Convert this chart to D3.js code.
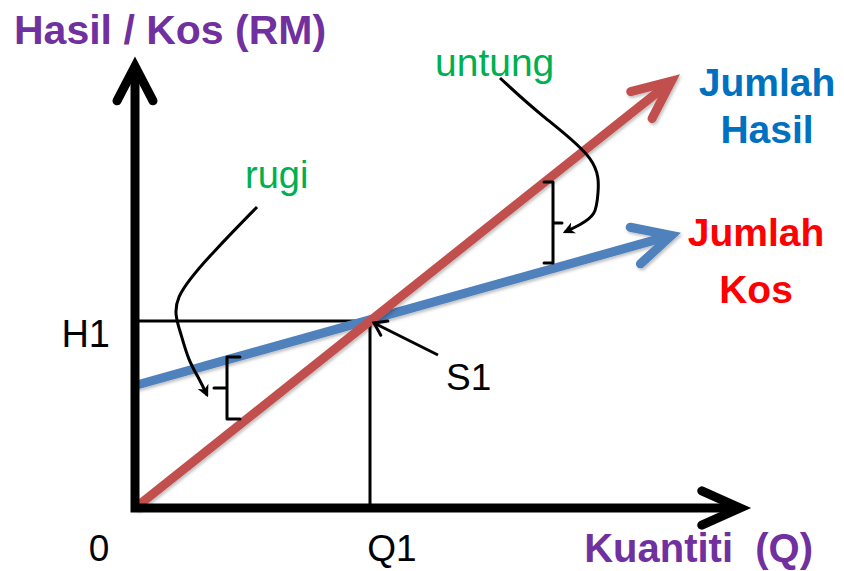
<!DOCTYPE html>
<html>
<head>
<meta charset="utf-8">
<script src="https://cdn.jsdelivr.net/npm/d3@7"></script>
<style>
  html, body { margin: 0; padding: 0; background: #ffffff; }
  svg { display: block; font-family: "Liberation Sans", Arial, sans-serif; }
</style>
</head>
<body>
<svg id="chart" width="844" height="571"></svg>
<script>
// ---- data (quantity units / RM units) ----
const quantity      = [0, 9.13];
const totalRevenue  = [0, 9.13];    // Jumlah Hasil (red line)
const totalCost     = [2.62, 5.83]; // Jumlah Kos (blue line)
const xTickValues   = [0, 4];
const xTickLabels   = ["0", "Q1"];
const yTickValues   = [4];
const yTickLabels   = ["H1"];
const breakEvenQ    = 4;
const breakEvenH    = 4;

// annotation geometry in data units
const rugiCurve   = [[2.077,6.439],[1.362,5.519],[0.596,4.449],[0.766,3.807],[0.902,3.166],[1.106,2.738],[1.226,2.417]];
const untungCurve = [[6.213,9.198],[6.894,8.406],[7.915,7.444],[7.881,6.695],[7.847,6.267],[7.574,6.053],[7.319,5.904]];
const rugiBracket   = {q:1.566, serif:1.787, tick:1.345, top:3.230, bottom:1.904, mid:2.567};
const untungBracket = {q:7.115, serif:6.962, tick:7.268, top:6.973, bottom:5.241, mid:6.096};
const s1Arrow = [[5.157,3.273],[4.068,3.957]];

const svg = d3.select("#chart");
const x = d3.scaleLinear().domain([0, 10]).range([135, 722.5]);
const y = d3.scaleLinear().domain([0, 10]).range([508, 40.5]);

const RED = "#C0504D", BLUE = "#4F81BD";

// shadow filter
const defs = svg.append("defs");
const f = defs.append("filter").attr("id","shadow").attr("x","-10%").attr("y","-10%").attr("width","130%").attr("height","130%");
f.append("feDropShadow").attr("dx",1.5).attr("dy",2).attr("stdDeviation",1.5).attr("flood-color","#000").attr("flood-opacity",0.25);

// small filled arrow marker
defs.append("marker").attr("id","tri").attr("viewBox","0 0 10 10").attr("refX",8).attr("refY",5)
  .attr("markerWidth",4).attr("markerHeight",4).attr("orient","auto").attr("markerUnits","strokeWidth")
  .append("path").attr("d","M0,0 L10,5 L0,10 L3,5 Z").attr("fill","#000");

function chevron(tip, angle, len, spread) {
  const a1 = angle + Math.PI - spread, a2 = angle + Math.PI + spread;
  return `M${tip[0]+len*Math.cos(a1)},${tip[1]+len*Math.sin(a1)} L${tip[0]},${tip[1]} L${tip[0]+len*Math.cos(a2)},${tip[1]+len*Math.sin(a2)}`;
}

// break-even guide lines
const gx = x(breakEvenQ), gy = y(breakEvenH);
svg.append("path")
  .attr("d", `M${x(0)},${gy} L${gx},${gy} L${gx},${y(0)}`)
  .attr("fill","none").attr("stroke","#000").attr("stroke-width",3);

// series lines with open arrowheads
function seriesLine(vals, color, spread, len) {
  const pts = quantity.map((q,i)=>[x(q), y(vals[i])]);
  const g = svg.append("g").attr("filter","url(#shadow)");
  g.append("path").attr("d", d3.line()(pts))
    .attr("stroke", color).attr("stroke-width", 9).attr("fill","none");
  const ang = Math.atan2(pts[1][1]-pts[0][1], pts[1][0]-pts[0][0]);
  g.append("path").attr("d", chevron(pts[1], ang, len, spread))
    .attr("stroke", color).attr("stroke-width", 9).attr("fill","none")
    .attr("stroke-linecap","round").attr("stroke-linejoin","miter");
}
seriesLine(totalCost, BLUE, 0.47, 42);
seriesLine(totalRevenue, RED, 0.42, 42);

// axes
const ax = svg.append("g");
ax.append("path").attr("d", `M${x(0)},${y(9.45)} L${x(0)},${y(0)} L${x(10.3)},${y(0)}`)
  .attr("fill","none").attr("stroke","#000").attr("stroke-width",9).attr("stroke-linejoin","miter");
ax.append("path").attr("d", chevron([x(0), y(9.45)], -Math.PI/2, 39, 0.48))
  .attr("fill","none").attr("stroke","#000").attr("stroke-width",9).attr("stroke-linecap","round");
ax.append("path").attr("d", chevron([x(10.3), y(0)], 0, 42, 0.42))
  .attr("fill","none").attr("stroke","#000").attr("stroke-width",9).attr("stroke-linecap","round");

// tick labels
svg.selectAll(".xt").data(xTickValues).enter().append("text")
  .attr("x", (d,i)=> i===0 ? x(d)-36 : x(d)+22).attr("y", 561)
  .attr("text-anchor","middle").attr("font-size",37).attr("fill","#000")
  .text((d,i)=>xTickLabels[i]);
svg.selectAll(".yt").data(yTickValues).enter().append("text")
  .attr("x", 110).attr("y", d=>y(d)+26)
  .attr("text-anchor","end").attr("font-size",38).attr("fill","#000")
  .text((d,i)=>yTickLabels[i]);

// axis titles
svg.append("text").attr("x",14).attr("y",44).attr("font-size",41).attr("font-weight","bold")
  .attr("fill","#7030A0").text("Hasil / Kos (RM)");
svg.append("text").attr("x",813).attr("y",562).attr("text-anchor","end").attr("font-size",40).attr("font-weight","bold")
  .attr("fill","#7030A0").attr("xml:space","preserve").text("Kuantiti  (Q)");

// series labels
const lab1 = svg.append("text").attr("text-anchor","middle").attr("font-size",39).attr("font-weight","bold").attr("fill","#0070C0");
lab1.append("tspan").attr("x",767).attr("y",96).text("Jumlah");
lab1.append("tspan").attr("x",767).attr("y",143).text("Hasil");
const lab2 = svg.append("text").attr("text-anchor","middle").attr("font-size",39).attr("font-weight","bold").attr("fill","#FF0000");
lab2.append("tspan").attr("x",756).attr("y",246).text("Jumlah");
lab2.append("tspan").attr("x",756).attr("y",303).text("Kos");

// annotations
svg.append("text").attr("x",245).attr("y",188).attr("font-size",38).attr("fill","#00B050").text("rugi");
svg.append("text").attr("x",435).attr("y",76).attr("font-size",39).attr("fill","#00B050").text("untung");
svg.append("text").attr("x",446).attr("y",390).attr("font-size",37).attr("fill","#000").text("S1");

const curve = d3.line().x(d=>x(d[0])).y(d=>y(d[1])).curve(d3.curveBasis);
[rugiCurve, untungCurve].forEach(c => {
  svg.append("path").attr("d", curve(c)).attr("fill","none").attr("stroke","#000")
    .attr("stroke-width",3).attr("marker-end","url(#tri)");
});

function bracket(b) {
  const p = `M${x(b.serif)},${y(b.top)} L${x(b.q)},${y(b.top)} L${x(b.q)},${y(b.bottom)} L${x(b.serif)},${y(b.bottom)} M${x(b.q)},${y(b.mid)} L${x(b.tick)},${y(b.mid)}`;
  svg.append("path").attr("d", p).attr("fill","none").attr("stroke","#000").attr("stroke-width",3)
    .attr("stroke-linejoin","round").attr("stroke-linecap","round");
}
bracket(rugiBracket);
bracket(untungBracket);

// S1 arrow
const sp = s1Arrow.map(d=>[x(d[0]), y(d[1])]);
svg.append("path").attr("d", d3.line()(sp)).attr("stroke","#000").attr("stroke-width",3).attr("fill","none");
const sa = Math.atan2(sp[1][1]-sp[0][1], sp[1][0]-sp[0][0]);
svg.append("path").attr("d", chevron(sp[1], sa, 14, 0.6)).attr("stroke","#000").attr("stroke-width",3)
  .attr("fill","none").attr("stroke-linecap","round");
</script>
</body>
</html>
